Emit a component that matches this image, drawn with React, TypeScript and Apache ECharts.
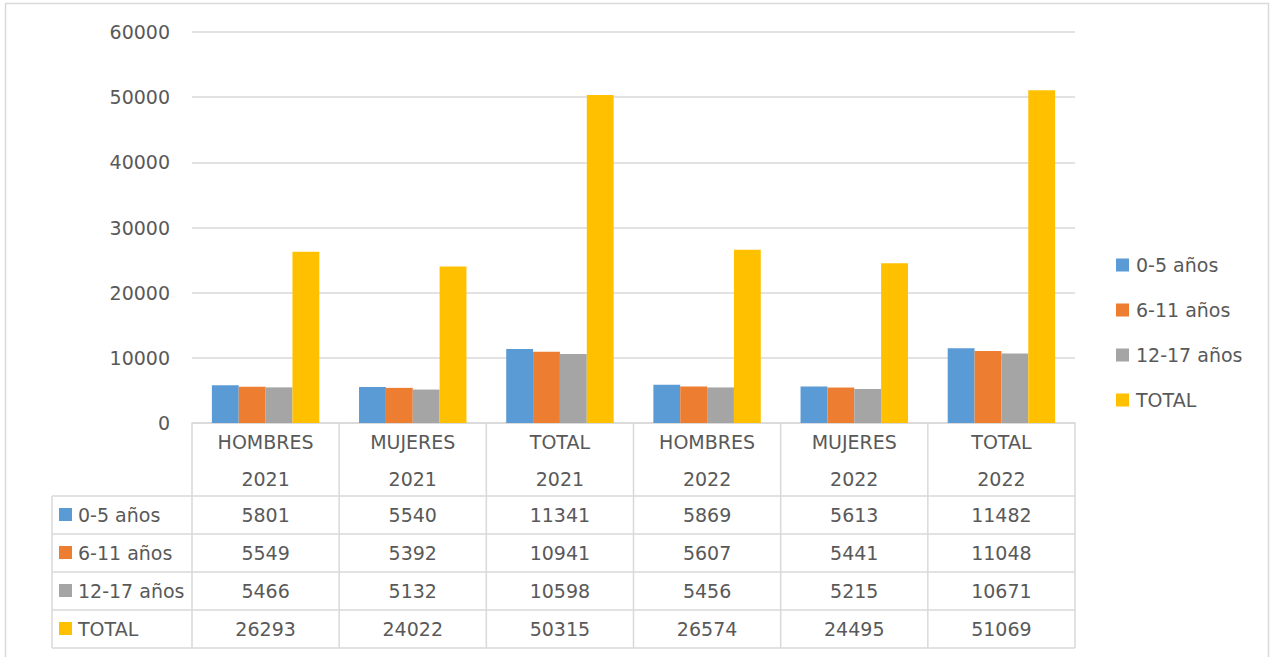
import React, { useEffect, useRef } from "react";
import * as echarts from "echarts";

const groups = ["HOMBRES", "MUJERES", "TOTAL", "HOMBRES", "MUJERES", "TOTAL"];
const years = ["2021", "2021", "2021", "2022", "2022", "2022"];
const seriesNames = ["0-5 años", "6-11 años", "12-17 años", "TOTAL"];
const age0to5 = [5801, 5540, 11341, 5869, 5613, 11482];
const age6to11 = [5549, 5392, 10941, 5607, 5441, 11048];
const age12to17 = [5466, 5132, 10598, 5456, 5215, 10671];
const totals = [26293, 24022, 50315, 26574, 24495, 51069];
const colors = ["#5B9BD5", "#ED7D31", "#A5A5A5", "#FFC000"];
const yTicks = { min: 0, max: 60000, interval: 10000 };

const W = 1275;
const H = 657;
const gridLeft = 192;
const gridRight = 1075;
const plotTop = 32;
const axisY = 423;
const tableLeft = 52;
const dataTop = 496;
const rowH = 38;
const lineColor = "#D9D9D9";
const textColor = "#595959";
const font = "DejaVu Sans";
const fontSize = 19;

export default function App() {
  const ref = useRef<HTMLDivElement>(null);
  useEffect(() => {
    if (!ref.current) return;
    const chart = echarts.init(ref.current, null, { renderer: "svg" });
    const seriesData = [age0to5, age6to11, age12to17, totals];
    const n = groups.length;
    const colW = (gridRight - gridLeft) / n;
    const nRows = seriesData.length;
    const tableBottom = dataTop + nRows * rowH;

    const graphic: any[] = [];
    const line = (x1: number, y1: number, x2: number, y2: number) => ({
      type: "line",
      silent: true,
      shape: { x1, y1, x2, y2 },
      style: { stroke: lineColor, lineWidth: 1.5 },
    });
    graphic.push({
      type: "rect",
      silent: true,
      shape: { x: 5.5, y: 3.5, width: 1263, height: 670 },
      style: { fill: "none", stroke: lineColor, lineWidth: 1.5 },
    });
    for (let r = 0; r <= nRows; r++) {
      const y = dataTop + r * rowH;
      graphic.push(line(tableLeft, y, gridRight, y));
    }
    graphic.push(line(tableLeft, dataTop, tableLeft, tableBottom));
    for (let c = 0; c <= n; c++) {
      const x = gridLeft + c * colW;
      graphic.push(line(x, axisY, x, tableBottom));
    }
    for (let r = 0; r < nRows; r++) {
      const cy = dataTop + r * rowH + rowH / 2;
      graphic.push({
        type: "rect",
        silent: true,
        shape: { x: 59, y: cy - 7, width: 13, height: 13 },
        style: { fill: colors[r] },
      });
      graphic.push({
        type: "text",
        silent: true,
        x: 78,
        y: cy,
        style: {
          text: seriesNames[r],
          fill: textColor,
          font: `${fontSize}px "${font}"`,
          textVerticalAlign: "middle",
          textAlign: "left",
        },
      });
      for (let c = 0; c < n; c++) {
        graphic.push({
          type: "text",
          silent: true,
          x: gridLeft + (c + 0.5) * colW,
          y: cy,
          style: {
            text: String(seriesData[r][c]),
            fill: textColor,
            font: `${fontSize}px "${font}"`,
            textVerticalAlign: "middle",
            textAlign: "center",
          },
        });
      }
    }

    chart.setOption({
      animation: false,
      backgroundColor: "#fff",
      color: colors,
      textStyle: { fontFamily: font },
      grid: {
        left: gridLeft,
        right: W - gridRight,
        top: plotTop,
        bottom: H - axisY,
        containLabel: false,
      },
      legend: {
        orient: "vertical",
        left: 1116,
        top: 255,
        padding: 0,
        itemWidth: 13,
        itemHeight: 13,
        itemGap: 25,
        icon: "rect",
        data: seriesNames,
        textStyle: {
          fontSize: fontSize,
          color: textColor,
          fontFamily: font,
          lineHeight: 20,
          padding: [0, 0, 0, 2],
        },
      },
      xAxis: {
        type: "category",
        data: groups.map((g, i) => `${g}\n${years[i]}`),
        axisLine: { lineStyle: { color: lineColor, width: 1.5 } },
        axisTick: { show: false },
        axisLabel: {
          color: textColor,
          fontSize: fontSize,
          fontFamily: font,
          lineHeight: 37,
          margin: 0,
          interval: 0,
        },
      },
      yAxis: {
        type: "value",
        min: yTicks.min,
        max: yTicks.max,
        interval: yTicks.interval,
        axisLine: { show: false },
        axisTick: { show: false },
        splitLine: { lineStyle: { color: lineColor, width: 1.5 } },
        axisLabel: {
          color: textColor,
          fontSize: fontSize,
          fontFamily: font,
          margin: 22,
          formatter: (v: number) => String(v),
        },
      },
      series: seriesNames.map((name, i) => ({
        name,
        type: "bar",
        data: seriesData[i],
        barGap: "0%",
        barCategoryGap: "27%",
        itemStyle: { color: colors[i] },
      })),
      graphic,
    });
    return () => chart.dispose();
  }, []);
  return (
    <div
      ref={ref}
      style={{ position: "fixed", left: 0, top: 0, width: W, height: H }}
    />
  );
}
